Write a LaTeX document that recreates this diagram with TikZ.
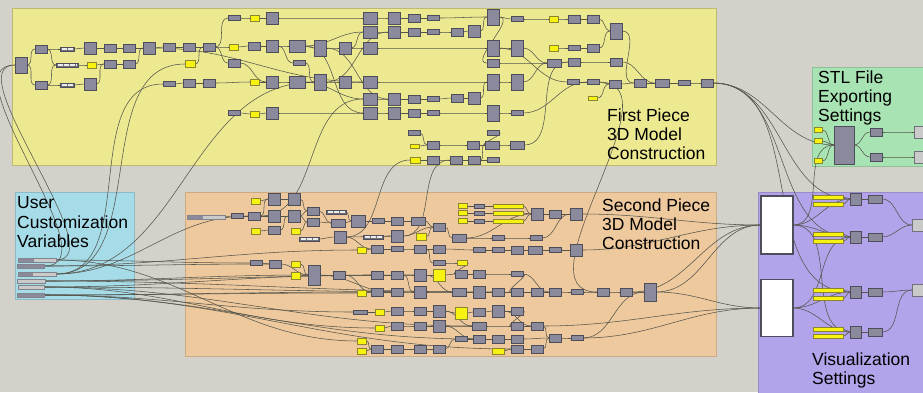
\documentclass[tikz,border=0pt]{standalone}
\usepackage{fontspec}
\setmainfont{Liberation Sans}
\pgfdeclarelayer{grp}\pgfdeclarelayer{wir}
\pgfsetlayers{grp,wir,main}
\definecolor{bgc}{HTML}{D4D0CA}
\definecolor{gy}{HTML}{ECE991}
\definecolor{gg}{HTML}{A8E3B3}
\definecolor{gb}{HTML}{A6DBE8}
\definecolor{go}{HTML}{EEC99D}
\definecolor{gp}{HTML}{B3A3EA}
\definecolor{cf}{HTML}{8B8A9C}
\definecolor{cd}{HTML}{4E4E5A}
\definecolor{yf}{HTML}{F8F210}
\definecolor{yd}{HTML}{8A8530}
\definecolor{lf}{HTML}{CACACA}
\definecolor{wc}{HTML}{55554C}
\tikzset{
  box/.style={draw=cd,line width=0.8pt,inner sep=0pt,outer sep=0pt,rectangle},
  comp/.style={box,fill=cf},
  ycomp/.style={box,fill=yf,draw=yd},
  lcomp/.style={box,fill=lf,draw=cd!80},
  wcomp/.style={box,fill=white,draw=cd,line width=1.4pt},
  slid/.style={box,fill=cd!80,draw=cd,line width=0.8pt,path picture={\draw[white!85!gray,line width=2.2pt,dash pattern=on 5pt off 1.2pt] ([xshift=1.5pt]path picture bounding box.west) -- ([xshift=-1.5pt]path picture bounding box.east);}},
  tslid/.style={box,fill=lf,draw=cd!70,path picture={\fill[cf] (path picture bounding box.south west) rectangle ([xshift=#1]path picture bounding box.north west);}},
  wire/.style={draw=wc,line width=0.55pt},
  grpbox/.style={line width=1pt},
  lbl/.style={anchor=base west,inner sep=0pt,font=\fontsize{17.5}{19}\selectfont}
}
\begin{document}
\begin{tikzpicture}[x=1pt,y=-1pt]
\useasboundingbox (0,0) rectangle (923,392);
\begin{pgfonlayer}{grp}
\fill[bgc] (0,0) rectangle (923,392);
\draw[grpbox,fill=gy,draw=gy!80!black] (12,8) rectangle (716,165);
\draw[grpbox,fill=gg,draw=gg!85!black] (812,67) rectangle (926,166);
\draw[grpbox,fill=gb,draw=gb!85!black] (15,192) rectangle (134,299);
\draw[grpbox,fill=go,draw=go!85!black] (185,192) rectangle (716,356);
\draw[grpbox,fill=gp,draw=gp!85!black] (758,192) rectangle (926,395);
\end{pgfonlayer}
% labels
\node[lbl] (t1) at (607,121) {First Piece};
\node[lbl] (t2) at (607,140) {3D Model};
\node[lbl] (t3) at (607,159) {Construction};
\node[lbl] (t4) at (818,83) {STL File};
\node[lbl] (t5) at (818,102) {Exporting};
\node[lbl] (t6) at (818,121) {Settings};
\node[lbl] (t7) at (17,208) {User};
\node[lbl] (t8) at (17,228) {Customization};
\node[lbl] (t9) at (17,247) {Variables};
\node[lbl] (t10) at (602,211) {Second Piece};
\node[lbl] (t11) at (602,230) {3D Model};
\node[lbl] (t12) at (602,249) {Construction};
\node[lbl] (t13) at (812,365) {Visualization};
\node[lbl] (t14) at (812,384) {Settings};
% yellow group components
\foreach \n/\x/\y/\w/\h in {a1/21/65/12/16,a2/41/49/12/8,a3/41/85/12/8,a7/90/48/12/12,a8/90/84/12/12,a9/110/48/12/8,a10/110/64/12/8,a11/129/48/12/8,a12/129/64/12/8,a13/149/48/12/12,a14/169/47/12/8,a15/189/47/12/8,a16/209/47/12/8,a17/169/84/12/5,a18/189/83/12/8,a19/209/83/12/8,a20/234/18/12/5,a21/272/18/12/12,a22/254/46/12/8,a23/272/46/12/12,a24/297/46/16/12,a25/299/63/12/5,a26/234/63/12/8,a27/272/82/12/12,a28/297/82/16/12,a29/234/113/12/5,a30/272/113/12/12,a31/320/48/12/16,a32/345/48/12/12,a33/370/48/14/12,a34/320/82/12/16,a35/345/82/12/12,a36/370/82/14/12,a37/370/18/14/12,a38/394/18/12/12,a39/414/18/12/8,a40/433/18/12/5,a41/370/32/14/12,a42/394/32/12/12,a43/414/32/12/8,a44/433/32/12/5,a45/457/32/12/8,a46/474/31/12/12,a47/493/17/12/16,a48/517/19/12/5,a49/574/19/12/8,a50/593/19/12/8,a51/616/31/12/16,a52/493/48/12/16,a53/517/48/12/16,a54/574/48/12/5,a55/593/48/12/8,a56/493/63/12/8,a57/554/63/14/8,a58/574/62/12/8,a59/616/62/12/8,a60/493/82/12/16,a61/517/82/12/16,a62/573/82/12/5,a63/593/82/12/5,a64/615/84/12/8,a65/640/83/12/8,a66/662/83/14/8,a67/684/83/12/5,a68/707/83/12/8,a69/370/99/14/12,a70/394/99/12/12,a71/414/99/12/8,a72/433/99/12/5,a73/457/98/12/8,a74/474/98/12/12,a75/370/113/14/12,a76/394/113/12/12,a77/414/113/12/8,a78/433/113/12/5,a79/493/113/12/16,a80/517/113/12/5,a81/414/133/12/5,a82/433/145/12/8,a83/473/145/12/8,a84/493/133/12/5,a85/492/145/14/8,a86/517/145/14/8,a87/433/160/12/8,a88/456/160/12/8,a89/474/160/12/8,a90/493/160/12/5}
  \node[comp,minimum width=\w pt,minimum height=\h pt] (\n) at (\x,\y) {};
\foreach \n/\x/\y/\w/\h in {ya1/92/65/9/6,ya2/190/64/10/7,ya3/255/18/9/6,ya4/234/47/9/6,ya5/255/82/9/6,ya6/255/114/9/6,ya7/554/19/9/6,ya8/554/48/9/6,ya9/593/98/9/4,ya10/415/146/9/4,ya11/415/160/10/6}
  \node[ycomp,minimum width=\w pt,minimum height=\h pt] (\n) at (\x,\y) {};
\foreach \n/\x/\y/\w/\h in {s1/67/49/14/4,s2/67/65/22/4,s3/67/85/14/4,s5/309/239/20/4,s6/336/212/20/4,s7/373/237/20/4}
  \node[slid,minimum width=\w pt,minimum height=\h pt] (\n) at (\x,\y) {};
% orange group components
\foreach \n/\x/\y/\w/\h in {b1/237/216/12/5,b2/254/216/12/8,b3/274/199/12/12,b4/294/199/12/12,b5/274/216/12/12,b6/294/216/12/12,b7/274/230/12/8,b8/313/211/12/8,b9/313/222/12/8,b10/338/223/14/8,b11/358/221/14/12,b12/340/237/12/12,b13/378/221/12/5,b14/397/221/12/8,b15/418/221/14/8,b16/397/236/12/12,b17/439/227/12/8,b18/479/206/10/4,b19/479/213/10/4,b20/479/221/10/4,b21/537/214/12/12,b22/555/214/12/8,b23/576/214/12/12,b24/459/238/14/8,b25/498/238/12/5,b26/536/238/12/5,b27/377/249/12/8,b28/397/249/12/5,b29/420/249/12/8,b30/439/249/12/8,b31/479/250/12/5,b32/498/250/12/5,b33/517/250/12/8,b34/535/250/14/8,b35/555/250/12/5,b36/576/250/12/12,b37/439/263/12/5,b38/256/263/12/5,b39/275/264/12/8,b40/314/275/12/20,b41/339/275/12/8,b42/377/275/12/8,b43/397/275/12/8,b44/420/275/12/12,b45/461/274/12/8,b46/479/274/12/8,b47/517/274/12/5,b48/377/292/12/8,b49/397/292/12/8,b50/420/292/12/12,b51/459/292/14/8,b52/479/292/12/12,b53/498/292/12/8,b54/517/292/12/8,b55/537/292/12/8,b56/555/292/12/8,b57/577/292/12/5,b58/603/292/12/8,b59/626/292/12/8,b60/650/292/12/18,b61/360/312/14/4,b62/397/311/12/8,b63/420/311/12/8,b64/439/311/12/12,b65/479/312/12/8,b66/498/311/12/12,b67/517/311/12/8,b68/397/326/12/8,b69/420/326/12/8,b70/439/326/12/12,b71/479/326/14/8,b72/517/326/12/8,b73/537/326/12/8,b74/461/339/12/5,b75/479/339/12/8,b76/498/339/12/8,b77/517/339/12/8,b78/555/338/12/8,b79/577/338/12/5,b80/377/349/12/8,b81/397/349/12/8,b82/420/349/12/8,b83/439/349/12/8,b84/517/349/12/8,b85/537/349/12/8}
  \node[comp,minimum width=\w pt,minimum height=\h pt] (\n) at (\x,\y) {};
\foreach \n/\x/\y/\w/\h in {yb1/256/201/9/6,yb2/256/231/9/6,yb3/296/231/9/6,yb4/421/237/10/7,yb5/463/206/9/5,yb6/463/213/9/5,yb7/463/221/9/5,yb8/508/206/30/4,yb9/508/213/30/4,yb10/508/221/30/4,yb11/362/250/9/6,yb12/462/263/10/5,yb13/296/264/9/6,yb14/296/276/9/7,yb15/439/275/12/12,yb16/362/293/9/6,yb17/380/312/9/6,yb18/461/313/12/12,yb19/380/328/9/6,yb20/362/341/9/6,yb21/362/351/9/6,yb22/498/351/12/6}
  \node[ycomp,minimum width=\w pt,minimum height=\h pt] (\n) at (\x,\y) {};
\node[tslid=16pt,minimum width=38pt,minimum height=4pt] (s4) at (206,217) {};
% blue group sliders
\node[tslid=16pt,minimum width=38pt,minimum height=4pt] (u1) at (37,260) {};
\node[tslid=27pt,minimum width=27pt,minimum height=4pt] (u2) at (31,266) {};
\node[tslid=15pt,minimum width=38pt,minimum height=4pt] (u3) at (37,274) {};
\node[tslid=0pt,minimum width=28pt,minimum height=4pt] (u4) at (31,281) {};
\node[tslid=0pt,minimum width=26pt,minimum height=4pt] (u5) at (31,287) {};
\node[tslid=27pt,minimum width=27pt,minimum height=4pt] (u6) at (31,295) {};
% green group
\foreach \n/\x/\y in {yg1/818/130,yg2/818/141,yg3/818/161}
  \node[ycomp,minimum width=8pt,minimum height=5pt] (\n) at (\x,\y) {};
\node[comp,minimum width=20pt,minimum height=38pt] (g1) at (844,145) {};
\node[comp,minimum width=12pt,minimum height=8pt] (g2) at (876,132) {};
\node[comp,minimum width=12pt,minimum height=8pt] (g3) at (876,157) {};
\node[lcomp,minimum width=10pt,minimum height=12pt] (l3) at (919,132) {};
\node[lcomp,minimum width=10pt,minimum height=12pt] (l4) at (919,157) {};
% purple group
\node[wcomp,minimum width=32pt,minimum height=58pt] (w1) at (777,225) {};
\node[wcomp,minimum width=32pt,minimum height=57pt] (w2) at (777,308) {};
\foreach \n/\y in {yp1/197,yp2/204,yp3/234,yp4/241,yp5/290,yp6/298,yp7/329,yp8/336}
  \node[ycomp,minimum width=30pt,minimum height=4pt] (\n) at (828,\y) {};
\foreach \n/\y in {1/199,3/237,5/292,7/332}{
  \node[comp,minimum width=11pt,minimum height=12pt] (c\n) at (856,\y) {};
  \pgfmathtruncatemacro\m{\n+1}
  \node[comp,minimum width=14pt,minimum height=8pt] (c\m) at (875,\y) {};
}
\node[lcomp,minimum width=12pt,minimum height=12pt] (l1) at (918,225) {};
\node[lcomp,minimum width=12pt,minimum height=12pt] (l2) at (918,290) {};
% wires
\begin{pgfonlayer}{wir}
\foreach \p/\q in {a1/a2,a1/a3,a2/s1,a2/s2,a3/s2,a3/s3,s1/a7,s2/ya1,s3/a8,a7/a9,ya1/a10,a8/a10,a10/a12,a9/a11,a11/a13,a12/a13,a13/a14,a14/a15,a15/a16,a16/ya4,ya4/a22,a22/a23,a23/a24,a24/a31,a31/a32,a32/a33,a16/a20,a20/ya3,ya3/a21,a21/a37,a16/a26,a26/a27,a17/a18,a18/a19,a19/ya5,ya5/a27,a27/a28,a28/a34,a34/a35,a35/a36,a29/ya6,ya6/a30,a30/a75,ya2/a16,a37/a38,a38/a39,a39/a40,a40/a47,a41/a42,a42/a43,a43/a44,a44/a45,a45/a46,a46/a47,a32/a41,a24/a41,a33/a52,a47/a48,a48/ya7,ya7/a49,a49/a50,a50/a51,a52/a53,ya8/a54,a54/a55,a55/a51,a56/a57,a57/a58,a58/a59,a51/a65,a36/a60,a60/a61,a61/a57,a62/a63,a63/a64,ya9/a64,a64/a65,a65/a66,a66/a67,a67/a68,a59/a66,a69/a70,a70/a71,a71/a72,a72/a73,a73/a74,a74/a60,a75/a76,a76/a77,a77/a78,a78/a79,a79/a80,a53/a57,a81/a82,ya10/a82,a82/a83,a83/a85,a84/a85,a85/a86,a86/a58,ya11/a87,a87/a88,a88/a89,a89/a90,a89/a85,a28/a69,a24/a75,a31/a70,a34/a42,a13/a36,a47/a56,a52/a62,a80/a63,a25/a34,a23/a25}
  \draw[wire] (\p.east) to[out=0,in=180] (\q.west);
\foreach \p/\q in {s4/b1,b1/b2,yb1/b3,b2/b5,b2/b3,b3/b4,b5/b6,yb2/b7,b7/b6,b4/b8,b6/b9,b6/b8,b8/b10,b9/b10,b10/b11,b11/b13,b13/b14,b14/b15,b15/b17,s5/b12,s6/b11,b12/b16,s7/b16,b16/b17,yb4/b17,b17/b24,yb5/b18,yb6/b19,yb7/b20,b18/yb8,b19/yb9,b20/yb10,yb8/b21,yb9/b21,yb10/b21,b21/b22,b22/b23,b24/b25,b25/b26,b26/b23,b24/b21,yb11/b27,b27/b28,b28/b29,b29/b30,b30/b31,b31/b32,b32/b33,b33/b34,b34/b35,b35/b36,yb12/b45,b37/yb12,b38/b39,b39/b40,yb13/b40,yb14/b40,yb3/b9,b40/b41,b41/b42,b42/b43,b43/b44,b44/yb15,yb15/b45,b45/b46,b46/b47,yb16/b48,b48/b49,b49/b50,b50/b51,b51/b52,b52/b53,b53/b54,b54/b55,b55/b56,b56/b57,b57/b58,b58/b59,b59/b60,b61/yb17,yb17/b62,b62/b63,b63/b64,b64/yb18,yb18/b65,b65/b66,b66/b67,yb19/b68,b68/b69,b69/b70,b70/b71,b71/b72,b72/b73,b74/b75,b75/b76,b76/b77,b77/b78,b78/b79,yb20/b80,yb21/b80,b80/b81,b81/b82,b82/b83,yb22/b84,b84/b85,b85/b78,b73/b78,b67/b72,b47/b54,b44/b51,b41/b48,b40/b49,b43/b50,b64/b71,b70/b75,b83/b74,b66/b73,b47/b56,b79/b60,b29/b37,b12/b27}
  \draw[wire] (\p.east) to[out=0,in=180] (\q.west);
\foreach \p/\q in {u1/yb20,u2/b39,u3/b2,u4/b40,u5/b42,u6/b48,u6/b61,u4/b44,u5/b51,u6/b75,u6/b84,u5/b71,u4/b53,u2/yb11,u1/b38,u6/yb16,u5/yb19,u3/a17,u3/ya2,u3/a34,b2/a69,b12/ya11,b16/a88,a63/b58,a68/g1,a68/c1,a68/c3,a68/c5,w1/g1,b23/w1,b36/w1,b59/w1,b60/w1,b60/w2,b73/w2,b79/w2,yg1/g1,yg2/g1,yg3/g1,g1/g2,g1/g3,g2/l3,g3/l4,yp1/c1,yp2/c1,yp3/c3,yp4/c3,yp5/c5,yp6/c5,yp7/c7,yp8/c7,w1/c1,w1/c3,w1/c7,w2/c5,w2/c7,w2/c3,c1/c2,c3/c4,c5/c6,c7/c8,c2/l1,c4/l1,c6/l2,c8/l2}
  \draw[wire] (\p.east) to[out=0,in=180] (\q.west);
\draw[wire] (u1.east) .. controls +(60,0) and +(-60,0) .. (a1.west);
\draw[wire] (u2.east) .. controls +(70,0) and +(-70,0) .. (a1.west);
\end{pgfonlayer}
\end{tikzpicture}
\end{document}
